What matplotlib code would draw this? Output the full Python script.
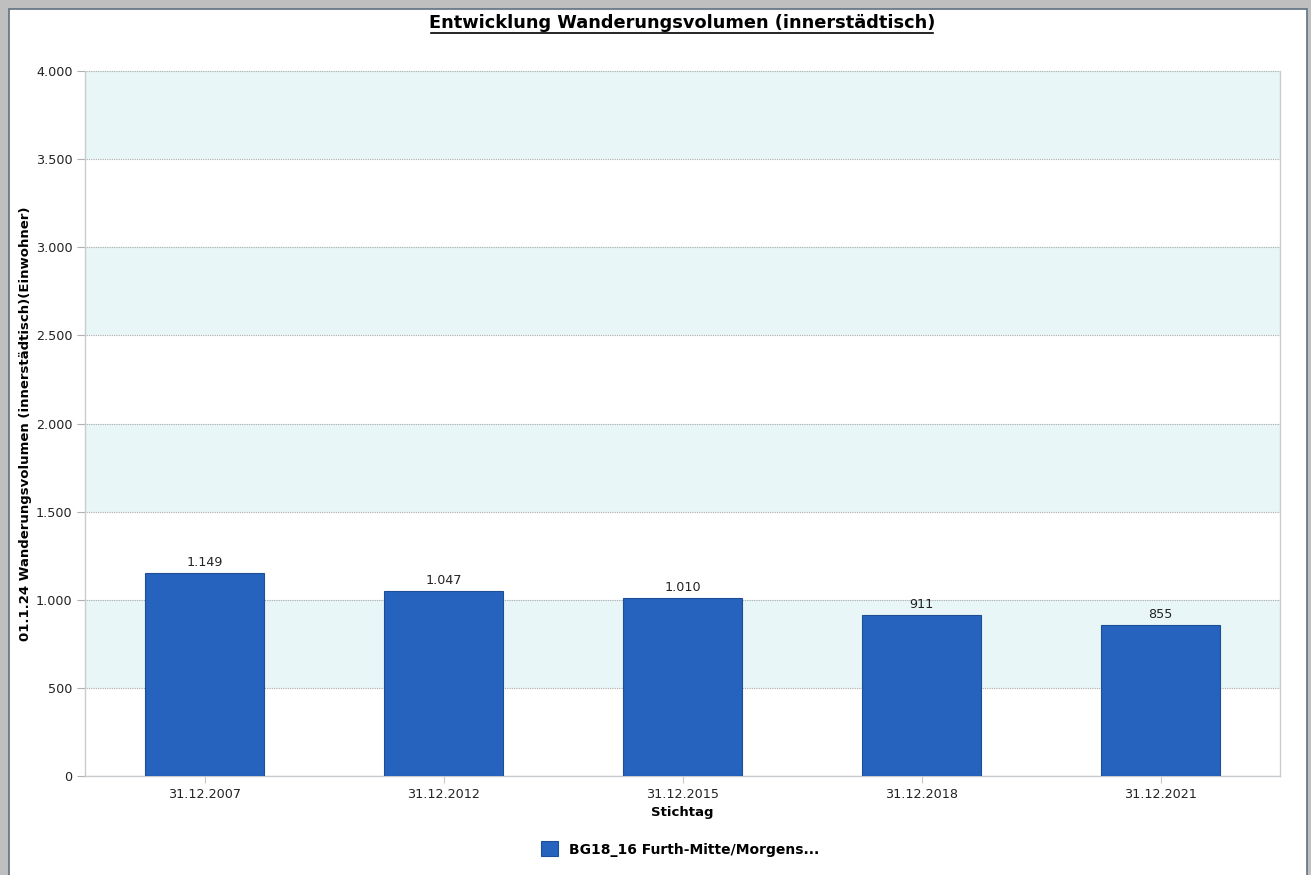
import matplotlib.pyplot as plt
from matplotlib.patches import Rectangle
from matplotlib.ticker import FuncFormatter

# data
stichtage = ['31.12.2007', '31.12.2012', '31.12.2015', '31.12.2018', '31.12.2021']
volumen = [1149, 1047, 1010, 911, 855]
y_ticks = [0, 500, 1000, 1500, 2000, 2500, 3000, 3500, 4000]
serie = 'BG18_16 Furth-Mitte/Morgens...'


def de_fmt(v, pos=None):
    return f'{int(round(v)):,}'.replace(',', '.')


plt.rcParams['font.family'] = ['DejaVu Sans']
fig = plt.figure(figsize=(13.11, 8.75), dpi=100)
W, H = 1311, 875

# grey window frame
fig.patches.append(Rectangle((0, 0), 1, 1, transform=fig.transFigure,
                             facecolor='#BFBFBF', edgecolor='none', zorder=-3))
fig.patches.append(Rectangle((9 / W, -0.01), 1 - 13 / W, 1 - 9 / H + 0.01, transform=fig.transFigure,
                             facecolor='white', edgecolor='#5F7180', linewidth=1.2, zorder=-2))

ax = fig.add_axes([85 / W, 1 - 776 / H, (1280 - 85) / W, (776 - 71) / H])
ax.set_xlim(-0.5, len(stichtage) - 0.5)
ax.set_ylim(0, 4000)

# alternating bands
for lo in y_ticks[1:-1:2]:
    ax.axhspan(lo, lo + 500, facecolor='#E8F6F7', edgecolor='none', zorder=0)

x = range(len(stichtage))
bars = ax.bar(x, volumen, width=0.5, color='#2563BE', edgecolor='#1D4E96',
              linewidth=0.8, zorder=3)
for xi, v in zip(x, volumen):
    ax.text(xi, v + 25, de_fmt(v), ha='center', va='bottom', fontsize=9.2,
            color='#222222', zorder=4)

ax.set_yticks(y_ticks)
ax.yaxis.set_major_formatter(FuncFormatter(de_fmt))
ax.grid(axis='y', color='#A8A8A8', linestyle=(0, (0.8, 0.8)), linewidth=0.8, zorder=1)
ax.set_axisbelow(True)
ax.set_xticks(list(x))
ax.set_xticklabels(stichtage)
ax.tick_params(axis='y', length=6, color='#B0B0B0', labelsize=9.2, labelcolor='#222222', pad=3)
ax.tick_params(axis='x', length=5, color='#C8C8C8', labelsize=9.2, labelcolor='#222222', pad=4)

for s in ['left', 'bottom', 'right']:
    ax.spines[s].set_color('#C8CCD0')
    ax.spines[s].set_linewidth(1)
ax.spines['top'].set_visible(False)

ax.set_xlabel('Stichtag', fontsize=9.5, fontweight='bold', labelpad=3)
ax.set_ylabel('01.1.24 Wanderungsvolumen (innerstädtisch)(Einwohner)', fontsize=9.5,
              fontweight='bold', labelpad=3)

fig.text(682 / W, 1 - 23 / H, 'Entwicklung Wanderungsvolumen (innerstädtisch)',
         ha='center', va='center', fontsize=12.8, fontweight='bold')
fig.add_artist(plt.Line2D([431 / W, 933 / W], [1 - 33 / H, 1 - 33 / H],
                          color='black', linewidth=1.2, transform=fig.transFigure))

leg = fig.legend([bars], [serie], loc='center', bbox_to_anchor=(680 / W, 1 - 849 / H),
                 frameon=False, prop={'weight': 'bold', 'size': 10},
                 handlelength=1.25, handleheight=1.25, handletextpad=0.8)

fig.savefig('out.png', dpi=100)
